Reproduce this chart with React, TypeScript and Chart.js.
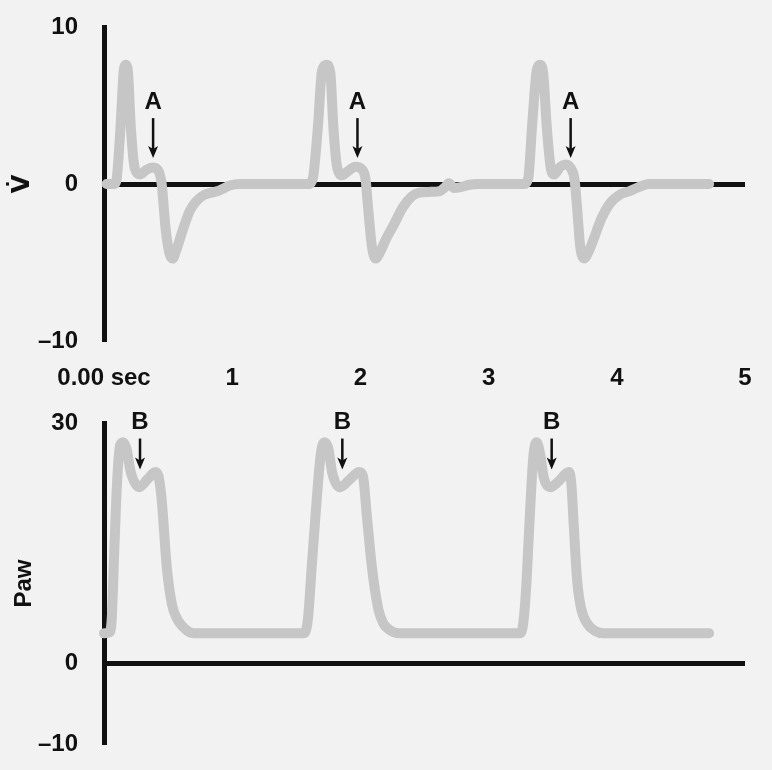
import React, { useEffect, useRef } from 'react';
import { Chart, registerables } from 'chart.js';

Chart.register(...registerables);

// ---- axis ticks ----
const timeTicks = [0, 1, 2, 3, 4, 5];
const timeTickLabels = ['0.00 sec', '1', '2', '3', '4', '5'];
const flowTicks = [-10, 0, 10];
const flowTickLabels = ['–10', '0', '10'];
const pawTicks = [-10, 0, 30];
const pawTickLabels = ['–10', '0', '30'];

// ---- flow (V̇) waveform ----
const flowTimes = [
  0.02, 0.08, 0.10, 0.13, 0.155, 0.17, 0.185, 0.21, 0.24, 0.28, 0.33, 0.38, 0.42, 0.45, 0.48, 0.51, 0.535, 0.56, 0.62, 0.67, 0.72, 0.78, 0.84, 0.89, 0.94, 0.98, 1.06,
  1.60, 1.63, 1.67, 1.70, 1.735, 1.765, 1.79, 1.82, 1.855, 1.90, 1.96, 2.01, 2.04, 2.06, 2.09, 2.12, 2.15, 2.20, 2.26, 2.33, 2.40, 2.46, 2.55, 2.62, 2.66, 2.69, 2.73, 2.78, 2.85, 2.92,
  3.28, 3.31, 3.34, 3.375, 3.40, 3.425, 3.455, 3.485, 3.51, 3.56, 3.60, 3.645, 3.67, 3.69, 3.715, 3.745, 3.775, 3.82, 3.88, 3.95, 4.03, 4.10, 4.17, 4.25, 4.72,
];
const flowValues = [
  0, 0, 0.4, 3.8, 7.3, 7.6, 7.3, 3.5, 1.0, 0.6, 0.9, 1.05, 0.9, 0, -2.8, -4.4, -4.75, -4.3, -2.8, -1.7, -1.1, -0.7, -0.55, -0.45, -0.25, -0.1, 0,
  0, 0.4, 3.8, 7.2, 7.6, 7.1, 3.5, 1.0, 0.55, 0.8, 1.1, 0.95, 0.3, -1.5, -4.0, -4.75, -4.4, -3.5, -2.6, -1.5, -0.8, -0.55, -0.5, -0.45, -0.2, 0.05, -0.25, -0.2, -0.05, 0,
  0, 0.4, 3.8, 7.2, 7.6, 7.1, 3.5, 1.0, 0.6, 1.1, 1.25, 0.95, 0.3, -1.5, -4.0, -4.75, -4.4, -3.5, -2.2, -1.2, -0.65, -0.45, -0.2, 0, 0,
];

// ---- airway pressure (Paw) waveform ----
const pawTimes = [
  0, 0.04, 0.06, 0.08, 0.10, 0.125, 0.15, 0.175, 0.21, 0.275, 0.34, 0.40, 0.425, 0.45, 0.49, 0.53, 0.57, 0.61, 0.66, 0.70,
  1.56, 1.59, 1.62, 1.65, 1.69, 1.72, 1.75, 1.78, 1.84, 1.92, 1.99, 2.02, 2.05, 2.09, 2.14, 2.18, 2.23, 2.30,
  3.24, 3.27, 3.295, 3.32, 3.35, 3.375, 3.40, 3.43, 3.48, 3.55, 3.625, 3.645, 3.665, 3.69, 3.72, 3.77, 3.83, 3.90, 4.72,
];
const pawValues = [
  3.8, 3.9, 5.5, 14, 22, 27.2, 27.6, 26.8, 23.8, 22, 23, 23.9, 23.4, 20.4, 12, 7.4, 5.6, 4.7, 4.0, 3.8,
  3.8, 5.5, 12, 18.5, 26, 27.6, 26.8, 23.8, 22, 23, 23.9, 23.4, 18.5, 12, 6.8, 5.0, 4.2, 3.8,
  3.8, 5.0, 10, 18, 26, 27.6, 26.3, 23.2, 22, 22.8, 23.9, 22.5, 17, 10.5, 7.0, 5.0, 4.1, 3.8, 3.8,
];

// ---- annotation arrows ----
const flowMarkTimes = [0.383, 1.977, 3.64];
const flowMarkValues = [1.65, 1.65, 1.65];
const flowMarkLabels = ['A', 'A', 'A'];
const pawMarkTimes = [0.281, 1.859, 3.492];
const pawMarkValues = [24.2, 24.2, 24.2];
const pawMarkLabels = ['B', 'B', 'B'];

const INK = '#111111';
const TRACE = '#c6c6c6';
const BG = '#f2f2f2';
const FONT = { family: '"Liberation Sans", Arial, sans-serif', size: 24, weight: 'bold' as const };

function markPlugin(times: number[], values: number[], labels: string[], textGap: number, shaftLen: number) {
  return {
    id: 'marks',
    afterDatasetsDraw(chart: any) {
      const { ctx, scales } = chart;
      const x = scales.x;
      const y = scales.y;
      ctx.save();
      times.forEach((t, i) => {
        const px = x.getPixelForValue(t);
        const py = y.getPixelForValue(values[i]);
        ctx.strokeStyle = INK;
        ctx.lineWidth = 2.5;
        ctx.beginPath();
        ctx.moveTo(px, py - shaftLen);
        ctx.lineTo(px, py - 8);
        ctx.stroke();
        ctx.fillStyle = INK;
        ctx.beginPath();
        ctx.moveTo(px, py);
        ctx.lineTo(px - 5, py - 12);
        ctx.lineTo(px, py - 9);
        ctx.lineTo(px + 5, py - 12);
        ctx.closePath();
        ctx.fill();
        ctx.font = 'bold 24px "Liberation Sans", Arial, sans-serif';
        ctx.textAlign = 'center';
        ctx.textBaseline = 'middle';
        ctx.fillText(labels[i], px, py - textGap);
      });
      ctx.restore();
    },
  };
}

function makePoints(xs: number[], ys: number[]) {
  return xs.map((t, i) => ({ x: t, y: ys[i] }));
}

const zeroBoxPadding = (s: any) => {
  s.paddingTop = 0;
  s.paddingBottom = 0;
  s.paddingLeft = 0;
  s.paddingRight = 0;
};

export default function App() {
  const topRef = useRef<HTMLCanvasElement | null>(null);
  const botRef = useRef<HTMLCanvasElement | null>(null);

  useEffect(() => {
    document.body.style.margin = '0';
    document.body.style.background = BG;

    const lineDataset = (pts: any[]) => ({
      data: pts,
      borderColor: TRACE,
      borderWidth: 10,
      borderCapStyle: 'round' as const,
      borderJoinStyle: 'round' as const,
      pointRadius: 0,
      cubicInterpolationMode: 'monotone' as const,
      fill: false,
      clip: false as any,
    });

    const yGrid = {
      drawTicks: false,
      color: (c: any) => (c.tick && c.tick.value === 0 ? INK : 'rgba(0,0,0,0)'),
      lineWidth: (c: any) => (c.tick && c.tick.value === 0 ? 5 : 1),
    };

    const topChart = new Chart(topRef.current!, {
      type: 'line',
      data: { datasets: [lineDataset(makePoints(flowTimes, flowValues))] },
      options: {
        animation: false,
        responsive: false,
        events: [],
        layout: { autoPadding: false, padding: { left: 0, right: 27, top: 27, bottom: 0 } },
        plugins: { legend: { display: false }, tooltip: { enabled: false } },
        scales: {
          x: {
            type: 'linear',
            min: 0,
            max: 5,
            afterBuildTicks: (s: any) => { s.ticks = timeTicks.map((v) => ({ value: v })); },
            afterFit: (s: any) => { s.height = 59; zeroBoxPadding(s); },
            ticks: {
              autoSkip: false,
              maxRotation: 0,
              padding: 23,
              color: INK,
              font: FONT,
              callback: (_v: any, i: number) => timeTickLabels[i],
            },
            grid: { display: false, drawTicks: false },
            border: { display: false },
          },
          y: {
            type: 'linear',
            min: -10,
            max: 10,
            afterBuildTicks: (s: any) => { s.ticks = flowTicks.map((v) => ({ value: v })); },
            afterFit: (s: any) => { s.width = 104; zeroBoxPadding(s); },
            ticks: {
              padding: 26,
              color: INK,
              font: FONT,
              callback: (_v: any, i: number) => flowTickLabels[i],
            },
            grid: yGrid,
            border: { display: true, color: INK, width: 5 },
            title: {
              display: true,
              text: 'V\u0307',
              color: INK,
              font: { family: '"DejaVu Sans", sans-serif', size: 24, weight: 'bold' },
              padding: { top: 8, bottom: 0 },
            },
          },
        },
      },
      plugins: [markPlugin(flowMarkTimes, flowMarkValues, flowMarkLabels, 56, 40)],
    } as any);

    const botChart = new Chart(botRef.current!, {
      type: 'line',
      data: { datasets: [lineDataset(makePoints(pawTimes, pawValues))] },
      options: {
        animation: false,
        responsive: false,
        events: [],
        layout: { autoPadding: false, padding: { left: 0, right: 27, top: 23, bottom: 26 } },
        plugins: { legend: { display: false }, tooltip: { enabled: false } },
        scales: {
          x: {
            type: 'linear',
            min: 0,
            max: 5,
            display: false,
            afterFit: zeroBoxPadding,
          },
          y: {
            type: 'linear',
            min: -10,
            max: 30,
            afterBuildTicks: (s: any) => { s.ticks = pawTicks.map((v) => ({ value: v })); },
            afterFit: (s: any) => { s.width = 104; zeroBoxPadding(s); },
            ticks: {
              padding: 26,
              color: INK,
              font: FONT,
              callback: (_v: any, i: number) => pawTickLabels[i],
            },
            grid: yGrid,
            border: { display: true, color: INK, width: 5 },
            title: {
              display: true,
              text: 'Paw',
              color: INK,
              font: FONT,
              padding: { top: 10, bottom: 0 },
            },
          },
        },
      },
      plugins: [markPlugin(pawMarkTimes, pawMarkValues, pawMarkLabels, 47, 31)],
    } as any);

    return () => {
      topChart.destroy();
      botChart.destroy();
    };
  }, []);

  return (
    <div style={{ position: 'absolute', left: 0, top: 0, width: 772, height: 770, background: BG, overflow: 'hidden' }}>
      <canvas ref={topRef} width={772} height={400} style={{ position: 'absolute', left: 0, top: 0 }} />
      <canvas ref={botRef} width={772} height={370} style={{ position: 'absolute', left: 0, top: 400 }} />
    </div>
  );
}
